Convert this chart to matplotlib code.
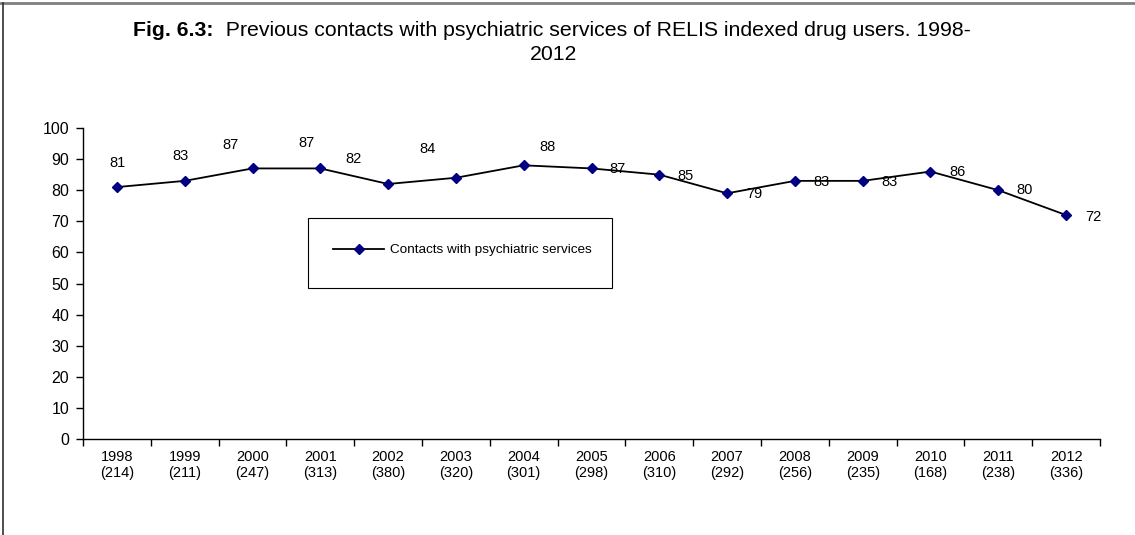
import matplotlib
matplotlib.use("Agg")
import matplotlib.pyplot as plt
from matplotlib.lines import Line2D
from matplotlib.patches import Rectangle

plt.rcParams['font.family'] = ['Liberation Sans', 'DejaVu Sans']

years = ["1998", "1999", "2000", "2001", "2002", "2003", "2004", "2005",
         "2006", "2007", "2008", "2009", "2010", "2011", "2012"]
counts = ["214", "211", "247", "313", "380", "320", "301", "298",
          "310", "292", "256", "235", "168", "238", "336"]
contacts = [81, 83, 87, 87, 82, 84, 88, 87, 85, 79, 83, 83, 86, 80, 72]
series_name = "Contacts with psychiatric services"
title_bold = "Fig. 6.3:"
title_rest = "Previous contacts with psychiatric services of RELIS indexed drug users. 1998-"
title_line2 = "2012"

# label offsets (pixels) mimicking the original placement
label_dx = [1, -4, -22, -14, -35, -28, 24, 26, 26, 27, 27, 27, 27, 26, 27]
label_dy = [24, 25, 23, 25, 25, 29, 18, -1, -1, -1, -1, -1, 0, 0, -2]

W, H = 1135, 535
fig = plt.figure(figsize=(W / 100, H / 100), dpi=100)
ax = fig.add_axes([83 / W, 1 - 439 / H, (1100 - 83) / W, (439 - 128) / H])

x = list(range(len(years)))
ax.plot(x, contacts, color='black', lw=1.3, marker='D', markersize=5,
        markerfacecolor='#000080', markeredgecolor='#000080',
        label=series_name, zorder=3)

for xi, v, dx, dy in zip(x, contacts, label_dx, label_dy):
    ax.annotate(str(v), (xi, v), xytext=(dx, dy), textcoords='offset pixels',
                ha='center', va='center', fontsize=10.5, color='black')

ax.set_xlim(-0.5, len(years) - 0.5)
ax.set_ylim(0, 100)
ax.set_yticks(range(0, 101, 10))
ax.set_xticks([i - 0.5 for i in range(len(years) + 1)])
ax.set_xticklabels([])
ax.set_xticks(x, minor=True)
ax.set_xticklabels([f"{y}\n({c})" for y, c in zip(years, counts)], minor=True,
                   fontsize=10.5)
ax.tick_params(axis='x', which='minor', length=0, pad=8)
ax.tick_params(axis='x', which='major', length=5, width=1, direction='out')
ax.tick_params(axis='y', length=5, width=1, direction='out', labelsize=11.5, pad=5)
for s in ['top', 'right']:
    ax.spines[s].set_visible(False)
for s in ['left', 'bottom']:
    ax.spines[s].set_linewidth(1.0)
    ax.spines[s].set_color('black')

# legend: frame drawn as rectangle, entries via legend without frame
rect = Rectangle((308 / W, 1 - 288 / H), (612 - 308) / W, 70 / H,
                 transform=fig.transFigure, facecolor='white',
                 edgecolor='black', lw=0.8, zorder=4)
ax.add_artist(rect)
leg = ax.legend(loc='center left', bbox_to_anchor=(333 / W, 1 - 250 / H),
                bbox_transform=fig.transFigure, frameon=False,
                fontsize=9.7, handlelength=3.8, borderpad=0, borderaxespad=0,
                handletextpad=0.4)
leg.set_zorder(6)

# title: bold prefix + normal rest, centred as one line
title_fs = 15.3
renderer = fig.canvas.get_renderer()
tb = fig.text(0, 0, title_bold, fontsize=title_fs, fontweight='bold')
tr = fig.text(0, 0, "  " + title_rest, fontsize=title_fs)
wb = tb.get_window_extent(renderer).width
wr = tr.get_window_extent(renderer).width
cx = 552
x0 = cx - (wb + wr) / 2
y1 = 1 - 31 / H
tb.set_position((x0 / W, y1))
tb.set_va('center')
tr.set_position(((x0 + wb) / W, y1))
tr.set_va('center')
fig.text(554 / W, 1 - 55 / H, title_line2, fontsize=title_fs, ha='center', va='center')

fig.add_artist(Line2D([0, 1], [1 - 2.5 / H, 1 - 2.5 / H], transform=fig.transFigure,
                      color='#808080', lw=2))
fig.add_artist(Line2D([3 / W, 3 / W], [0, 1 - 2.5 / H], transform=fig.transFigure,
                      color='#303030', lw=1.2))

fig.savefig("out.png", dpi=100)
